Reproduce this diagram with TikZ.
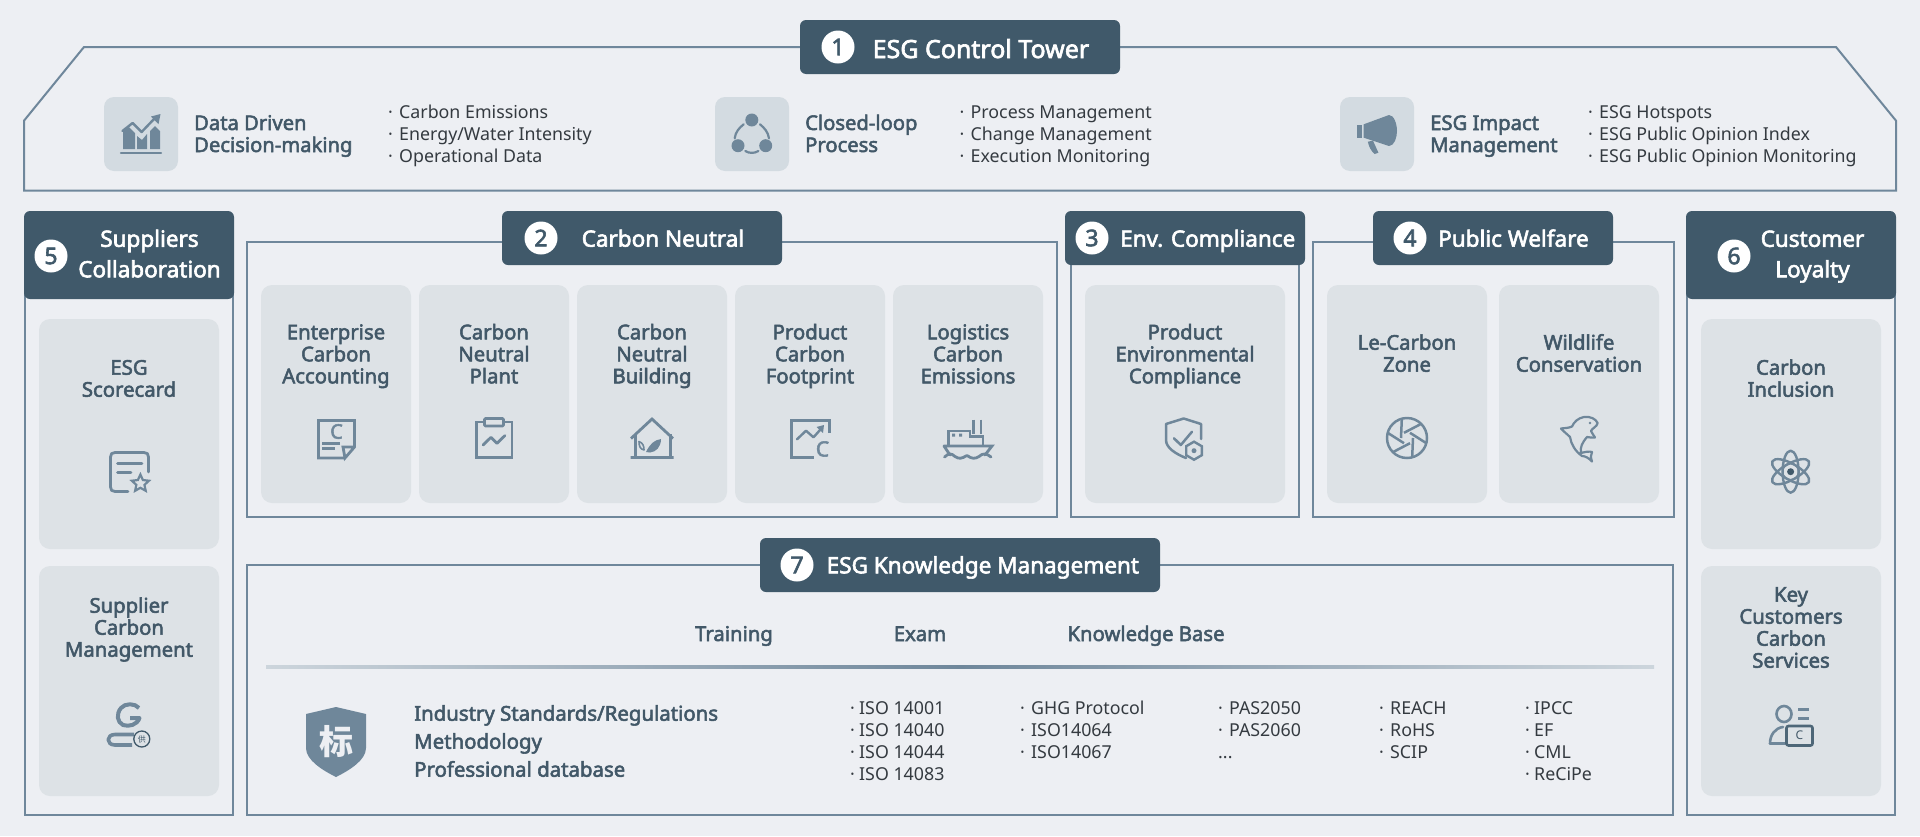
\documentclass[tikz,border=0pt]{standalone}
\usepackage{fontspec}
\setmainfont{Noto Sans}[BoldFont={Noto Sans},BoldFeatures={FakeBold=2.6}]
\newfontfamily\cjk{Noto Sans CJK SC}
\usetikzlibrary{shapes.geometric,calc}
\definecolor{bgx}{HTML}{EDEFF3}
\definecolor{hdx}{HTML}{40596A}
\definecolor{lnx}{HTML}{6F879B}
\definecolor{tix}{HTML}{425868}
\definecolor{lix}{HTML}{343A40}
\definecolor{cax}{HTML}{DDE2E6}
\definecolor{bxx}{HTML}{D3DBE1}
\definecolor{icx}{HTML}{6F879A}
\newcommand{\dotitem}{\makebox[11pt][l]{·}}
\tikzset{
    frame/.style={draw=lnx,line width=2pt},
    hdr/.style={fill=hdx,rounded corners=6pt,inner sep=0pt},
    numdot/.style={circle,fill=white,text=hdx,inner sep=0pt,minimum size=33pt,font=\fontsize{23}{24}\selectfont\bfseries},
    hdrtxt/.style={text=white,inner sep=0pt,align=center,font=\fontsize{22.5}{30.5}\selectfont\bfseries},
    card/.style={fill=cax,rounded corners=11pt,inner sep=0pt},
    iconbox/.style={fill=bxx,rounded corners=10pt,inner sep=0pt,minimum size=74pt},
    titletxt/.style={text=tix,inner sep=0pt,align=left,font=\fontsize{20.2}{22}\selectfont\bfseries},
    cardtxt/.style={text=tix,inner sep=0pt,align=center,anchor=base,font=\fontsize{20.3}{22}\selectfont\bfseries},
    listtxt/.style={text=lix,inner sep=0pt,align=left,anchor=base west,font=\fontsize{17.8}{22}\selectfont},
    icl/.style={draw=icx,line width=2.8pt,line cap=round,line join=round},
    icf/.style={fill=icx},
}
\begin{document}
\begin{tikzpicture}[x=1pt,y=-1pt]
        \fill [bgx] (0,0) rectangle (1920,836);
        \useasboundingbox (0,0) rectangle (1920,836);

        % frames
        \draw [frame] (84,47) -- (1836,47) -- (1896,120.7) -- (1896,190.7) -- (24,190.7) -- (24,120.7) -- cycle;
        \draw [frame] (25,290) rectangle (233,815);
        \draw [frame] (247,242) rectangle (1057,517);
        \draw [frame] (1070.5,242) rectangle (1299,517);
        \draw [frame] (1312.5,242) rectangle (1673.5,517);
        \draw [frame] (1687,290) rectangle (1895,815);
        \draw [frame] (247,564.7) rectangle (1673,815);

        % headers
        \node [hdr,minimum width=320pt,minimum height=54pt] (hdtower) at (960,47) {};
        \node [numdot] (nmtower) at (838,47) {1};
        \node [hdrtxt,anchor=base west,font=\fontsize{25}{30}\selectfont\bfseries] (txtower) at (872.5,58) {ESG Control Tower};
        \node [hdr,minimum width=210pt,minimum height=88pt] (hdsupp) at (129,255) {};
        \node [numdot] (nmsupp) at (51,256) {5};
        \node [hdrtxt,anchor=base] (txsupp) at (149.5,277.3) {Suppliers\\Collaboration};
        \node [hdr,minimum width=280pt,minimum height=54pt] (hdneut) at (642,238) {};
        \node [numdot] (nmneut) at (541,238) {2};
        \node [hdrtxt,anchor=base west] (txneut) at (581.5,246.7) {Carbon Neutral};
        \node [hdr,minimum width=240pt,minimum height=54pt] (hdcomp) at (1185,238) {};
        \node [numdot] (nmcomp) at (1092,238) {3};
        \node [hdrtxt,anchor=base west] (txcomp) at (1120,246.7) {Env. Compliance};
        \node [hdr,minimum width=240pt,minimum height=54pt] (hdwelf) at (1493,238) {};
        \node [numdot] (nmwelf) at (1410,238) {4};
        \node [hdrtxt,anchor=base west] (txwelf) at (1438,246.7) {Public Welfare};
        \node [hdr,minimum width=210pt,minimum height=88pt] (hdcust) at (1791,255) {};
        \node [numdot] (nmcust) at (1734,256) {6};
        \node [hdrtxt,anchor=base] (txcust) at (1812.5,277.3) {Customer\\Loyalty};
        \node [hdr,minimum width=400pt,minimum height=54pt] (hdknow) at (960,565) {};
        \node [numdot] (nmknow) at (797,565) {7};
        \node [hdrtxt,anchor=base west] (txknow) at (826.5,573.3) {ESG Knowledge Management};

        % control tower row
        \node [iconbox] (bxdata) at (141,134) {};
        \node [titletxt,anchor=base west] (tidata) at (194,152) {Data Driven\\Decision-making};
        \node [listtxt] (lidata) at (388,162) {\dotitem Carbon Emissions\\\dotitem Energy/Water Intensity\\\dotitem Operational Data};
        \node [iconbox] (bxloop) at (752,134) {};
        \node [titletxt,anchor=base west] (tiloop) at (805,152) {Closed-loop\\Process};
        \node [listtxt] (liloop) at (959.5,162) {\dotitem Process Management\\\dotitem Change Management\\\dotitem Execution Monitoring};
        \node [iconbox] (bximpa) at (1377,134) {};
        \node [titletxt,anchor=base west] (tiimpa) at (1430,152) {ESG Impact\\Management};
        \node [listtxt] (liimpa) at (1588,162) {\dotitem ESG Hotspots\\\dotitem ESG Public Opinion Index\\\dotitem ESG Public Opinion Monitoring};

        % cards
        \node [card,minimum width=150pt,minimum height=218pt] (ca) at (336,394) {};
        \node [cardtxt] (catxt) at (336,383.3) {Enterprise\\Carbon\\Accounting};
        \node [card,minimum width=150pt,minimum height=218pt] (cb) at (494,394) {};
        \node [cardtxt] (cbtxt) at (494,383.3) {Carbon\\Neutral\\Plant};
        \node [card,minimum width=150pt,minimum height=218pt] (cc) at (652,394) {};
        \node [cardtxt] (cctxt) at (652,383.3) {Carbon\\Neutral\\Building};
        \node [card,minimum width=150pt,minimum height=218pt] (cd) at (810,394) {};
        \node [cardtxt] (cdtxt) at (810,383.3) {Product\\Carbon\\Footprint};
        \node [card,minimum width=150pt,minimum height=218pt] (ce) at (968,394) {};
        \node [cardtxt] (cetxt) at (968,383.3) {Logistics\\Carbon\\Emissions};
        \node [card,minimum width=200pt,minimum height=218pt] (cf) at (1185,394) {};
        \node [cardtxt] (cftxt) at (1185,383.3) {Product\\Environmental\\Compliance};
        \node [card,minimum width=160pt,minimum height=218pt] (cg) at (1407,394) {};
        \node [cardtxt] (cgtxt) at (1407,371.7) {Le-Carbon\\Zone};
        \node [card,minimum width=160pt,minimum height=218pt] (ch) at (1579,394) {};
        \node [cardtxt] (chtxt) at (1579,371.7) {Wildlife\\Conservation};
        \node [card,minimum width=180pt,minimum height=230pt] (si) at (129,434) {};
        \node [cardtxt] (sitxt) at (129,396.7) {ESG\\Scorecard};
        \node [card,minimum width=180pt,minimum height=230pt] (sj) at (129,681) {};
        \node [cardtxt] (sjtxt) at (129,656.7) {Supplier\\Carbon\\Management};
        \node [card,minimum width=180pt,minimum height=230pt] (sk) at (1791,434) {};
        \node [cardtxt] (sktxt) at (1791,396.7) {Carbon\\Inclusion};
        \node [card,minimum width=180pt,minimum height=230pt] (sl) at (1791,681) {};
        \node [cardtxt] (sltxt) at (1791,667.7) {Key\\Customers\\Carbon\\Services};

        % knowledge panel
        \node [cardtxt] (trtxt) at (734,641) {Training};
        \node [cardtxt] (extxt) at (920,641) {Exam};
        \node [cardtxt] (kbtxt) at (1146,641) {Knowledge Base};
        \shade [left color=lnx!35,right color=lnx!35,middle color=lnx] (266,665.6) rectangle (1654,668.4);
        \draw [fill=icx,draw=none] (336,707) -- (366,714) -- (366,748) .. controls (366,760) and (350,770) .. (336,777)
            .. controls (322,770) and (306,760) .. (306,748) -- (306,714) -- cycle;
        \node [text=bgx,inner sep=0pt,font=\fontsize{34}{36}\selectfont\cjk\bfseries] (shtxt) at (336,742) {标};
        \node [text=tix,inner sep=0pt,align=left,anchor=base west,font=\fontsize{20.4}{28}\selectfont\bfseries] (kmtxt) at (414,776.7)
            {Industry Standards/Regulations\\Methodology\\Professional database};
        \node [listtxt] (isoa) at (850,780.7) {\makebox[9pt][l]{·}ISO 14001\\\makebox[9pt][l]{·}ISO 14040\\\makebox[9pt][l]{·}ISO 14044\\\makebox[9pt][l]{·}ISO 14083};
        \node [listtxt] (isob) at (1020,758.3) {\dotitem GHG Protocol\\\dotitem ISO14064\\\dotitem ISO14067};
        \node [listtxt] (isoc) at (1218,758.3) {\dotitem PAS2050\\\dotitem PAS2060\\...};
        \node [listtxt] (isod) at (1379,758.3) {\dotitem REACH\\\dotitem RoHS\\\dotitem SCIP};
        \node [listtxt] (isoe) at (1525,780.7) {\makebox[9pt][l]{·}IPCC\\\makebox[9pt][l]{·}EF\\\makebox[9pt][l]{·}CML\\\makebox[9pt][l]{·}ReCiPe};

        % icons: data
        \fill [icf] (123,149) -- (123,131) -- (129,127) -- (135,133) -- (135,149) -- cycle
            (137,149) -- (137,136) -- (142,140) -- (147,134) -- (147,149) -- cycle
            (150,149) -- (150,131) -- (155,126) -- (160,131) -- (160,149) -- cycle;
        \draw [icl,line width=2.4pt] (121,152.7) -- (161,152.7);
        \draw [icl,line width=2.4pt] (122.5,131) -- (132.6,123) -- (141.6,132) -- (155,118);
        \fill [icf] (160.5,114) -- (158.5,124) -- (151,116.5) -- cycle;
        % icons: loop
        \fill [icf] (751.8,120) circle (6.5pt) (738,145.7) circle (6.5pt) (765.7,145.7) circle (6.5pt);
        \draw [icl,line width=2.2pt] (734.7,138.3) .. controls (735.5,132) and (739,128) .. (743.7,124.3)
            (769,138.3) .. controls (768,132) and (764.5,128) .. (760,124.3)
            (745.3,151) .. controls (749,153.5) and (754.5,153.5) .. (758.4,151);
        % icons: megaphone
        \fill [icf] (1356.7,125) rectangle (1361.6,137.7);
        \fill [icf] (1363.7,124.3) -- (1389,115) .. controls (1394,115) and (1397,124) .. (1397,131)
            .. controls (1397,138) and (1394,146) .. (1389,146) -- (1363.7,137.7) -- cycle;
        \fill [icf] (1367.8,141.7) -- (1373,140.7) -- (1378.4,152.7) -- (1374.7,154) .. controls (1371,151) and (1369,147) .. (1367.8,141.7) -- cycle;
        % icons: doc with C
        \draw [icl,line cap=butt,line join=miter] (345,458) -- (318.5,458) -- (318.5,420.5) -- (354.5,420.5) -- (354.5,447) -- (345,458) -- (343,447) -- (354.5,447);
        \node [text=icx,inner sep=0pt,font=\fontsize{20}{20}\selectfont\bfseries] (icca) at (336.5,431.5) {C};
        \draw [icl,line cap=butt] (322.4,443.3) -- (340,443.3) (322.4,448.5) -- (334.7,448.5);
        % icons: clipboard
        \draw [icl,line cap=butt,line join=miter] (483.5,422) -- (476.5,422) -- (476.5,457.5) -- (512,457.5) -- (512,422) -- (504.5,422);
        \draw [icl,line cap=butt,rounded corners=1pt] (484.5,418.5) rectangle (503.5,426);
        \draw [icl] (483,445) -- (491,437.3) -- (497,443.3) -- (505,435.5);
        % icons: house
        \draw [icl,line cap=butt,line join=miter] (631,438.5) -- (652,419) -- (673,438.5) (635.5,434) -- (635.5,457.5) (670.5,434) -- (670.5,457.5) (630.5,457.5) -- (673.5,457.5);
        \fill [icf] (646,452) .. controls (650,444) and (654,440) .. (661,439) .. controls (661,447) and (656,452) .. (650,452.5) -- cycle;
        \draw [icl,line width=1.6pt] (644,450) .. controls (644,446) and (643,443) .. (639,441.5) .. controls (639,446) and (640,449) .. (644,450);
        % icons: chart with C
        \draw [icl,line cap=butt,line join=miter] (829.5,433) -- (829.5,420.5) -- (791.5,420.5) -- (791.5,457.5) -- (813.5,457.5);
        \draw [icl,line width=2.4pt] (797,439.3) -- (806,430.7) -- (813.5,437.3) -- (820,430);
        \fill [icf] (824,425) -- (823,433) -- (816.5,427) -- cycle;
        \node [text=icx,inner sep=0pt,font=\fontsize{21}{21}\selectfont\bfseries] (iccd) at (822.5,449) {C};
        % icons: ship
        \draw [icl,line cap=butt] (973.5,419.5) -- (973.5,434) (981,419.5) -- (981,434);
        \draw [icl,line cap=butt,line join=miter] (948.5,445) -- (948.5,431) -- (970,431) -- (970,436.5) -- (983,436.5) -- (983,445);
        \fill [icf] (952,433.5) rectangle (955,436.5) (959,433.5) rectangle (962,436.5);
        \draw [icl,line join=miter] (944,446) -- (992,446) -- (985,455) (944,446) -- (950,455);
        \draw [icl] (944.5,457) .. controls (949,453) and (951,453) .. (955,456.5) .. controls (959,459) and (961,459) .. (967,455.5)
            .. controls (972,459) and (975,459) .. (979,456.5) .. controls (983,453) and (986,453) .. (991,457);
        % icons: shield check
        \draw [icl,line width=2.5pt] (1201,439) -- (1201,424) -- (1183.7,418.5) -- (1166,424) -- (1166,440)
            .. controls (1166,448) and (1176,454) .. (1186,458);
        \draw [icl,line width=2.5pt] (1174,438.3) -- (1180.8,445) -- (1192,431.7);
        \node [regular polygon,regular polygon sides=6,rotate=90,draw=icx,line width=2.4pt,minimum size=18pt,inner sep=0pt] (ichex) at (1194,450.7) {};
        \fill [icf] (1194,450.7) circle (2.5pt);
        % icons: aperture
        \draw [icl,line width=2.5pt] (1407,438) circle (20pt);
        \foreach \ang in {0,60,...,300} {
            \draw [icl,line width=2.5pt,line cap=butt] ($(1407,438)+(\ang:6)$) -- ($(1407,438)+(\ang+75:20)$);
        }
        % icons: dolphin
        \draw [icl,line width=2.2pt] (1584,417) .. controls (1590,416) and (1596,419) .. (1597.6,423) .. controls (1597,427) and (1592,428) .. (1591,431)
            .. controls (1592,434) and (1594,435) .. (1595,437.5) .. controls (1591,438) and (1589,437) .. (1587,437)
            .. controls (1582,443) and (1580,447) .. (1581,453) .. controls (1585,452) and (1589,451) .. (1592,452)
            .. controls (1590,455) and (1591,458) .. (1592,461.5) .. controls (1589,458) and (1585,456) .. (1582,456)
            .. controls (1575,451) and (1571,444) .. (1570,437) .. controls (1567,434) and (1563,431) .. (1561,428.5)
            .. controls (1565,428) and (1569,428) .. (1572,426.5) .. controls (1574,422) and (1578,418) .. (1584,417) -- cycle;
        \fill [icf] (1590,423) circle (1.4pt);
        % icons: scorecard
        \draw [icl] (128,491.5) -- (115,491.5) .. controls (112,491.5) and (110.5,490) .. (110.5,487) -- (110.5,457)
            .. controls (110.5,454) and (112,452.5) .. (115,452.5) -- (144,452.5) .. controls (147,452.5) and (148.5,454) .. (148.5,457) -- (148.5,472);
        \draw [icl] (117.5,463.3) -- (142,463.3) (117.5,472.3) -- (131,472.3);
        \node [star,star points=5,star point ratio=2.1,draw=icx,line width=2.2pt,minimum size=18pt,inner sep=0pt] (icstar) at (140.4,483.5) {};
        % icons: supplier
        \draw [icl,line width=4pt,line cap=butt] (139,708) .. controls (135,703) and (125,703) .. (121,708) .. controls (116,714) and (117,722) .. (123,725)
            .. controls (129,727) and (137,725) .. (139.5,718) -- (130,718);
        \draw [icl,line width=3.6pt,line cap=butt] (134,734.5) -- (115,734.5) .. controls (106,734.5) and (106,745) .. (115,745) -- (132,745);
        \node [circle,draw=hdx,line width=1.3pt,inner sep=0pt,minimum size=16pt,text=hdx,font=\fontsize{8}{9}\selectfont\cjk] (icgon) at (141.8,739) {供};
        % icons: atom
        \foreach \ang in {30,90,150} {
            \draw [icl,line width=2.4pt,rotate around={\ang:(1790.6,471.7)}] (1790.6,471.7) ellipse (21pt and 8pt);
        }
        \draw [icl,line width=1.6pt] (1790.6,471.7) circle (8pt);
        \fill [hdx] (1790.6,471.7) circle (3.5pt);
        % icons: customer
        \draw [icl,line width=2.6pt] (1784,714) ellipse (7.5pt and 8pt);
        \draw [icl,line cap=butt,line width=3pt] (1798,709.3) -- (1808.6,709.3) (1798,718.3) -- (1808.6,718.3);
        \draw [icl,line width=2.6pt] (1770,743.5) .. controls (1770,735) and (1775,728) .. (1783,727);
        \draw [icl,line width=2.6pt] (1770,743.5) -- (1786,743.5);
        \draw [draw=hdx!70!icx,line width=2.6pt,rounded corners=2pt] (1786.5,726) rectangle (1812.5,745.5);
        \node [text=tix,inner sep=0pt,font=\fontsize{12}{12}\selectfont] (iccu) at (1799.5,735.5) {C};
\end{tikzpicture}
\end{document}
